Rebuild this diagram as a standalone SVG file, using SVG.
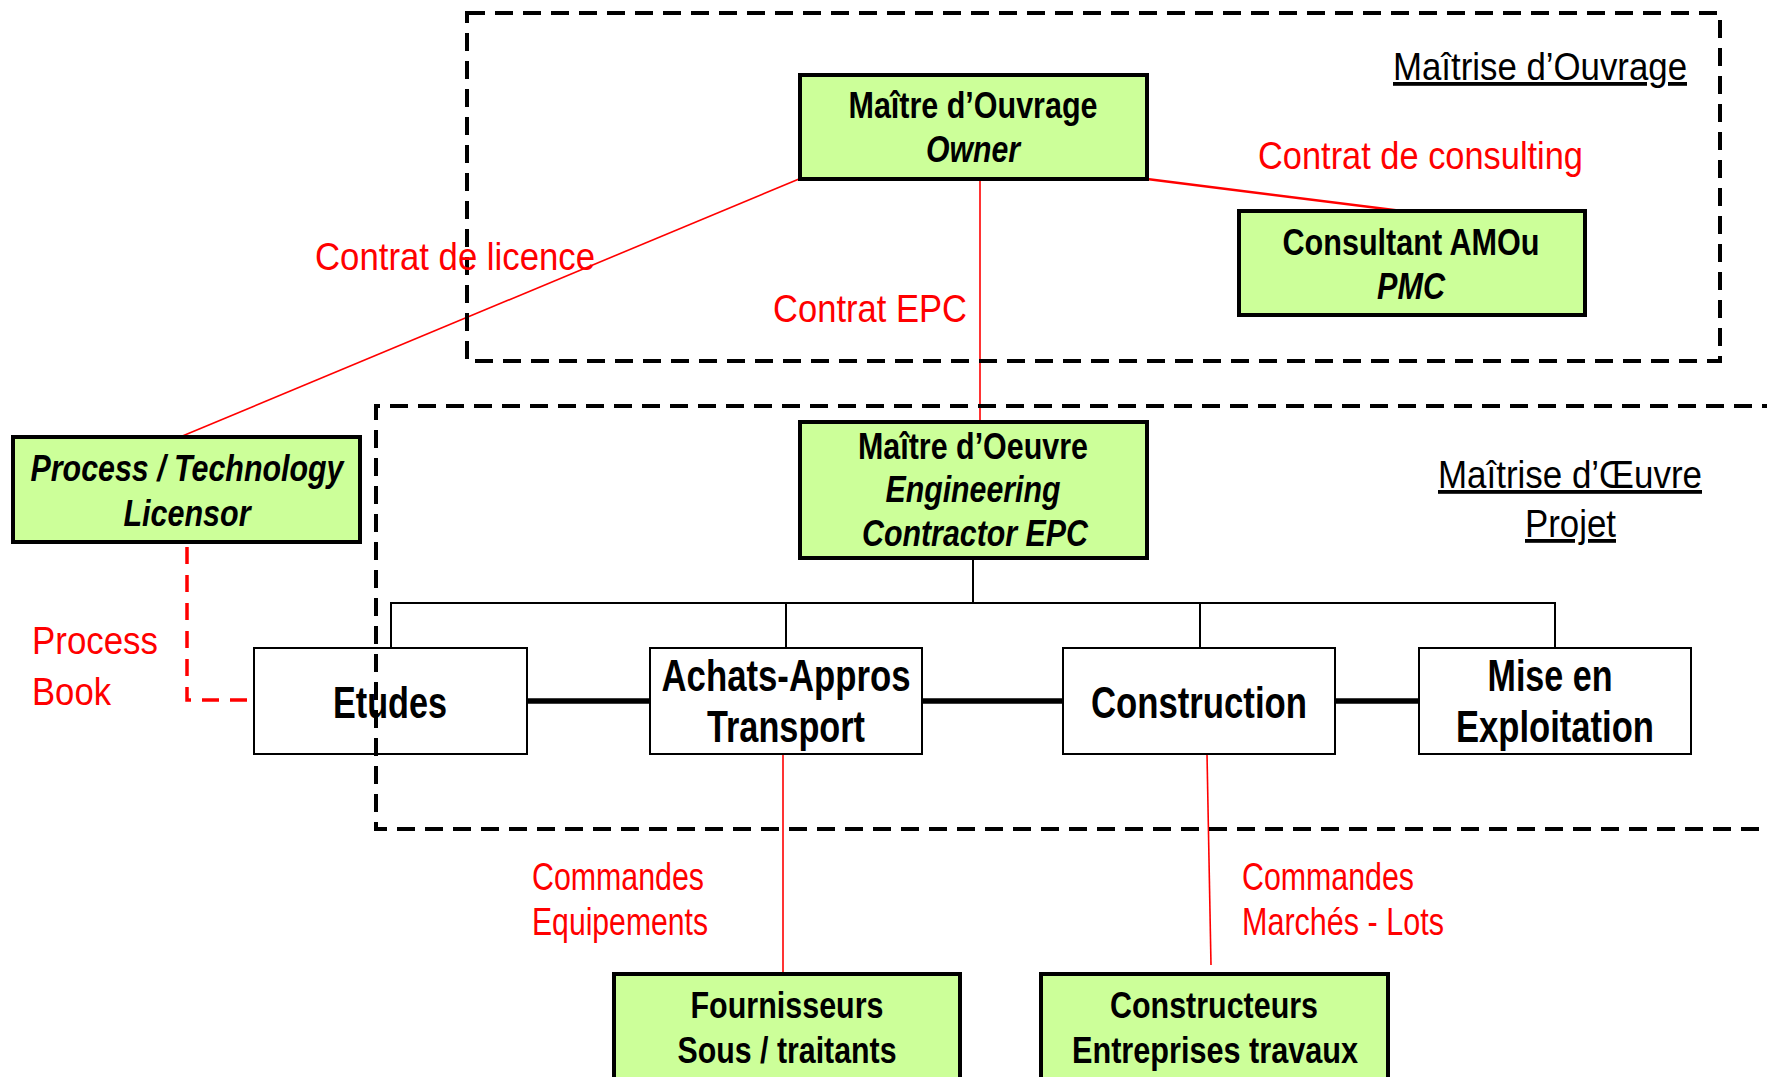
<svg xmlns="http://www.w3.org/2000/svg" width="1767" height="1077" viewBox="0 0 1767 1077">
<style>
.box{fill:#CCFF99;stroke:#000;stroke-width:4}
.wbox{fill:#fff;stroke:#000;stroke-width:2}
.bt{font-family:"Liberation Sans Narrow","Liberation Sans",Arial,sans-serif;font-weight:bold;font-size:37px;text-anchor:middle;fill:#000}
.bl{font-size:44px}
.it{font-style:italic}
.rt{font-family:"Liberation Sans",Arial,sans-serif;font-size:39px;fill:#FF0000}
.ut{font-family:"Liberation Sans",Arial,sans-serif;font-size:38px;fill:#000;text-decoration:underline}
.zone{fill:none;stroke:#000;stroke-width:4;stroke-dasharray:18 10}
.rl{fill:none;stroke:#FF0000;stroke-width:1.6}
.tl{fill:none;stroke:#000;stroke-width:2}
.thick{fill:none;stroke:#000;stroke-width:5.5}
</style>

<g id="connectors">
  <path class="rl" d="M799,179 L180,437"/>
  <path class="rl" d="M980,179 V422"/>
  <path class="rl" d="M1147,179 L1402,211" style="stroke-width:2.4"/>
  <path class="rl" d="M783,754 V980"/>
  <path class="rl" d="M1207,754 L1211,965"/>
  <path d="M187,544 V700 H250" fill="none" stroke="#FF0000" stroke-width="3.5" stroke-dasharray="17 11" stroke-dashoffset="25"/>
  <path class="tl" d="M973,558 V603 M391,648 V603 H1555 V648 M786,603 V648 M1200,603 V648"/>
  <path class="thick" d="M527,701 H650 M922,701 H1063 M1335,701 H1419"/>
</g>

<g id="owner">
  <rect class="box" x="800" y="75" width="347" height="104"/>
  <text class="bt" x="973" y="118" textLength="249" lengthAdjust="spacingAndGlyphs">Maître d’Ouvrage</text>
  <text class="bt it" x="973" y="162" textLength="94" lengthAdjust="spacingAndGlyphs">Owner</text>
</g>

<g id="consultant">
  <rect class="box" x="1239" y="211" width="346" height="104"/>
  <text class="bt" x="1411" y="255" textLength="257" lengthAdjust="spacingAndGlyphs">Consultant AMOu</text>
  <text class="bt it" x="1411" y="299" textLength="68" lengthAdjust="spacingAndGlyphs">PMC</text>
</g>

<g id="licensor">
  <rect class="box" x="13" y="437" width="347" height="105"/>
  <text class="bt it" x="187" y="481" textLength="313" lengthAdjust="spacingAndGlyphs">Process / Technology</text>
  <text class="bt it" x="187" y="526" textLength="127" lengthAdjust="spacingAndGlyphs">Licensor</text>
</g>

<g id="epc">
  <rect class="box" x="800" y="422" width="347" height="136"/>
  <text class="bt" x="973" y="459" textLength="230" lengthAdjust="spacingAndGlyphs">Maître d’Oeuvre</text>
  <text class="bt it" x="973" y="502" textLength="175" lengthAdjust="spacingAndGlyphs">Engineering</text>
  <text class="bt it" x="975" y="546" textLength="226" lengthAdjust="spacingAndGlyphs">Contractor EPC</text>
</g>

<g id="etudes">
  <rect class="wbox" x="254" y="648" width="273" height="106"/>
  <text class="bt bl" x="390" y="718" textLength="114" lengthAdjust="spacingAndGlyphs">Etudes</text>
</g>

<g id="achats">
  <rect class="wbox" x="650" y="648" width="272" height="106"/>
  <text class="bt bl" x="786" y="691" textLength="249" lengthAdjust="spacingAndGlyphs">Achats-Appros</text>
  <text class="bt bl" x="786" y="742" textLength="158" lengthAdjust="spacingAndGlyphs">Transport</text>
</g>

<g id="construction">
  <rect class="wbox" x="1063" y="648" width="272" height="106"/>
  <text class="bt bl" x="1199" y="718" textLength="216" lengthAdjust="spacingAndGlyphs">Construction</text>
</g>

<g id="exploitation">
  <rect class="wbox" x="1419" y="648" width="272" height="106"/>
  <text class="bt bl" x="1550" y="691" textLength="125" lengthAdjust="spacingAndGlyphs">Mise en</text>
  <text class="bt bl" x="1555" y="742" textLength="198" lengthAdjust="spacingAndGlyphs">Exploitation</text>
</g>

<g id="fournisseurs">
  <rect class="box" x="614" y="974" width="346" height="130"/>
  <text class="bt" x="787" y="1018" textLength="193" lengthAdjust="spacingAndGlyphs">Fournisseurs</text>
  <text class="bt" x="787" y="1063" textLength="219" lengthAdjust="spacingAndGlyphs">Sous / traitants</text>
</g>

<g id="constructeurs">
  <rect class="box" x="1041" y="974" width="347" height="130"/>
  <text class="bt" x="1214" y="1018" textLength="208" lengthAdjust="spacingAndGlyphs">Constructeurs</text>
  <text class="bt" x="1215" y="1063" textLength="286" lengthAdjust="spacingAndGlyphs">Entreprises travaux</text>
</g>

<g id="zone-ouvrage">
  <rect class="zone" x="467" y="13" width="1253" height="348"/>
  <text class="ut" x="1393" y="80" textLength="294" lengthAdjust="spacingAndGlyphs">Maîtrise d’Ouvrage</text>
</g>

<g id="zone-oeuvre">
  <path class="zone" d="M1780,406 H376 V829 H1780"/>
  <text class="ut" x="1438" y="488" textLength="264" lengthAdjust="spacingAndGlyphs">Maîtrise d’Œuvre</text>
  <text class="ut" x="1525" y="537" textLength="91" lengthAdjust="spacingAndGlyphs">Projet</text>
</g>

<g id="labels">
  <text class="rt" x="1258" y="169" textLength="325" lengthAdjust="spacingAndGlyphs">Contrat de consulting</text>
  <text class="rt" x="315" y="270" textLength="280" lengthAdjust="spacingAndGlyphs">Contrat de licence</text>
  <text class="rt" x="773" y="322" textLength="194" lengthAdjust="spacingAndGlyphs">Contrat EPC</text>
  <text class="rt" x="32" y="654" textLength="126" lengthAdjust="spacingAndGlyphs">Process</text>
  <text class="rt" x="32" y="705" textLength="79" lengthAdjust="spacingAndGlyphs">Book</text>
  <text class="rt" x="532" y="890" textLength="172" lengthAdjust="spacingAndGlyphs">Commandes</text>
  <text class="rt" x="532" y="935" textLength="176" lengthAdjust="spacingAndGlyphs">Equipements</text>
  <text class="rt" x="1242" y="890" textLength="172" lengthAdjust="spacingAndGlyphs">Commandes</text>
  <text class="rt" x="1242" y="935" textLength="202" lengthAdjust="spacingAndGlyphs">Marchés - Lots</text>
</g>
</svg>
